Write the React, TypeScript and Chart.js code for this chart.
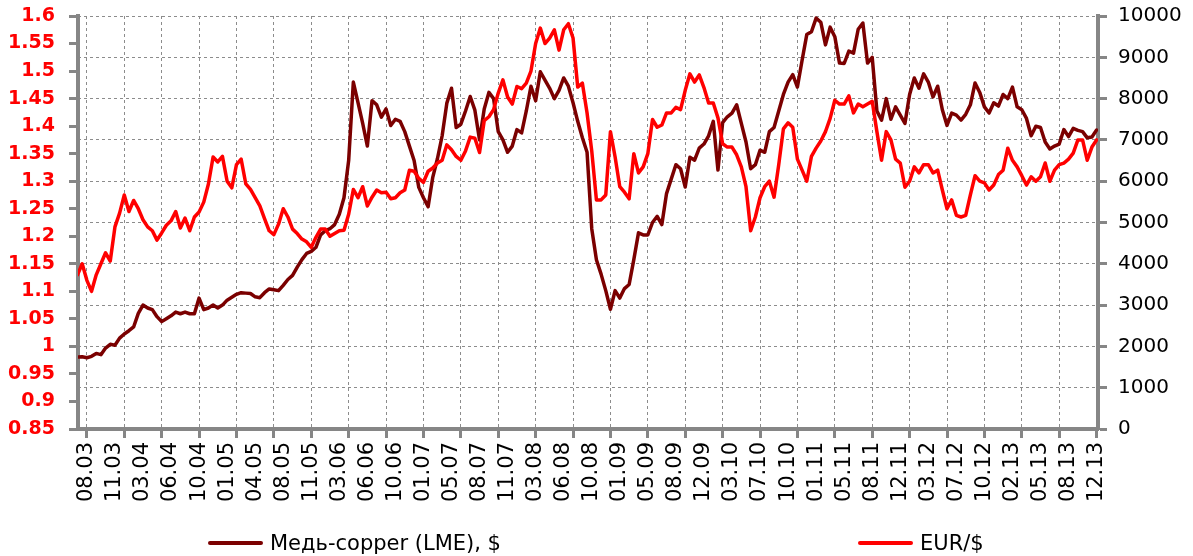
import React, { useEffect, useRef } from 'react';
import { Chart, registerables } from 'chart.js';

Chart.register(...registerables);

// Category labels shown every LABEL_STEP units along the x axis
const xLabels = [
  '08.03', '11.03', '03.04', '06.04', '10.04', '01.05', '04.05', '08.05', '11.05',
  '03.06', '06.06', '10.06', '01.07', '05.07', '08.07', '11.07', '03.08', '06.08',
  '10.08', '01.09', '05.09', '08.09', '12.09', '03.10', '07.10', '10.10', '01.11',
  '05.11', '08.11', '12.11', '03.12', '07.12', '10.12', '02.13', '05.13', '08.13', '12.13',
];

// Copper (LME), $ per tonne — right axis
const copper = [
  1740, 1750, 1725, 1760, 1830, 1800, 1960, 2050, 2030, 2200,
  2300, 2380, 2470, 2800, 3000, 2930, 2890, 2720, 2600, 2670,
  2740, 2830, 2790, 2830, 2790, 2790, 3170, 2890, 2930, 3000,
  2930, 3000, 3120, 3190, 3260, 3300, 3290, 3280, 3200, 3180,
  3300, 3390, 3370, 3350, 3480, 3620, 3720, 3920, 4100, 4250,
  4300, 4400, 4700, 4800, 4850, 4950, 5200, 5600, 6500, 8400,
  7900, 7400, 6850, 7950, 7850, 7550, 7750, 7350, 7500, 7450,
  7200, 6850, 6500, 5850, 5600, 5380, 6100, 6550, 7100, 7890,
  8250, 7300, 7380, 7700, 8050, 7720, 7000, 7750, 8150, 8000,
  7200, 7000, 6700, 6850, 7250, 7170, 7700, 8300, 7950, 8650,
  8450, 8250, 8000, 8200, 8500, 8300, 7900, 7450, 7050, 6700,
  4850, 4100, 3750, 3350, 2900, 3350, 3170, 3400, 3500, 4100,
  4750, 4700, 4700, 5000, 5150, 4950, 5700, 6050, 6400, 6300,
  5860, 6580, 6510, 6800, 6900, 7100, 7450, 6270, 7420, 7560,
  7650, 7850, 7400, 6950, 6300, 6400, 6750, 6700, 7200, 7300,
  7700, 8100, 8400, 8580, 8280, 8930, 9550, 9620, 9950, 9850,
  9300, 9730, 9500, 8860, 8850, 9150, 9100, 9680, 9830, 8860,
  9000, 7700, 7480, 8000, 7500, 7800, 7600, 7400, 8100, 8500,
  8250, 8600, 8400, 8040, 8300, 7730, 7350, 7650, 7600, 7480,
  7620, 7850, 8380, 8150, 7800, 7650, 7900, 7820, 8100, 8000,
  8280, 7800, 7730, 7520, 7100, 7330, 7300, 6950, 6780, 6850,
  6900, 7250, 7080, 7280, 7230, 7200, 7050, 7070, 7240,
];

// EUR/$ — left axis
const eur = [
  1.13, 1.15, 1.12, 1.10, 1.13, 1.15, 1.17, 1.155, 1.217, 1.242,
  1.275, 1.245, 1.265, 1.25, 1.23, 1.217, 1.21, 1.193, 1.206, 1.22,
  1.228, 1.245, 1.215, 1.233, 1.21, 1.235, 1.244, 1.262, 1.295, 1.344,
  1.335, 1.345, 1.30, 1.288, 1.33, 1.34, 1.295, 1.285, 1.27, 1.255,
  1.232, 1.21, 1.203, 1.222, 1.25, 1.235, 1.213, 1.205, 1.195, 1.19,
  1.18, 1.198, 1.213, 1.213, 1.2, 1.205, 1.21, 1.211, 1.24, 1.285,
  1.27, 1.29, 1.255, 1.271, 1.284, 1.279, 1.28, 1.268, 1.27, 1.279,
  1.284, 1.32, 1.318, 1.305, 1.298, 1.318, 1.324, 1.333, 1.338, 1.366,
  1.357, 1.345, 1.338, 1.355, 1.38, 1.378, 1.352, 1.41, 1.417, 1.43,
  1.46, 1.484, 1.453, 1.44, 1.472, 1.468, 1.478, 1.5, 1.55, 1.578,
  1.55, 1.56, 1.575, 1.538, 1.575, 1.586, 1.56, 1.471, 1.478, 1.424,
  1.355, 1.266, 1.266, 1.275, 1.39, 1.344, 1.29, 1.28, 1.268, 1.35,
  1.315, 1.326, 1.35, 1.412, 1.398, 1.402, 1.424, 1.424, 1.434, 1.43,
  1.465, 1.495, 1.48, 1.493, 1.47, 1.442, 1.442, 1.415, 1.368, 1.362,
  1.362, 1.348, 1.326, 1.29, 1.21, 1.235, 1.27, 1.29, 1.30, 1.271,
  1.33, 1.395, 1.406, 1.398, 1.34, 1.32, 1.30, 1.345, 1.36, 1.373,
  1.39, 1.414, 1.447, 1.44, 1.44, 1.455, 1.424, 1.44, 1.435, 1.44,
  1.445, 1.39, 1.338, 1.39, 1.375, 1.34, 1.333, 1.289, 1.30, 1.326,
  1.315, 1.33, 1.33, 1.315, 1.32, 1.284, 1.25, 1.266, 1.238, 1.235,
  1.238, 1.275, 1.31, 1.30, 1.297, 1.284, 1.293, 1.312, 1.32, 1.36,
  1.338, 1.326, 1.31, 1.293, 1.308, 1.30, 1.308, 1.333, 1.30, 1.32,
  1.33, 1.333, 1.34, 1.351, 1.375, 1.375, 1.338, 1.362, 1.375,
];

const eurTicks = [0.85, 0.9, 0.95, 1, 1.05, 1.1, 1.15, 1.2, 1.25, 1.3, 1.35, 1.4, 1.45, 1.5, 1.55, 1.6];
const copperTicks = [0, 1000, 2000, 3000, 4000, 5000, 6000, 7000, 8000, 9000, 10000];

const FIRST_UNIT = -2; // x unit of the first data value
const LABEL_STEP = 6;  // units between x labels
const GRID_STEP = 8;   // units between vertical grid lines

const AXIS = '#868686';
const GRID = '#8c8c8c';
const COPPER_COLOR = '#7b0000';
const EUR_COLOR = '#ff0000';
const FONT = 'DejaVu Sans';

const noPad = (scale: any) => {
  scale.paddingTop = 0;
  scale.paddingBottom = 0;
  scale.paddingLeft = 0;
  scale.paddingRight = 0;
};

export default function App() {
  const ref = useRef<HTMLCanvasElement | null>(null);

  useEffect(() => {
    if (!ref.current) return;
    const lastUnit = (xLabels.length - 1) * LABEL_STEP;
    const chart = new Chart(ref.current, {
      type: 'line',
      data: {
        datasets: [
          {
            label: 'EUR/$',
            data: eur.map((v, i) => ({ x: i + FIRST_UNIT, y: v })),
            yAxisID: 'y',
            borderColor: EUR_COLOR,
            borderWidth: 3.5,
            pointRadius: 0,
            tension: 0,
            borderJoinStyle: 'round',
            borderCapStyle: 'round',
            order: 0,
          },
          {
            label: 'Медь-copper (LME), $',
            data: copper.map((v, i) => ({ x: i + FIRST_UNIT, y: v })),
            yAxisID: 'y1',
            borderColor: COPPER_COLOR,
            borderWidth: 3.5,
            pointRadius: 0,
            tension: 0,
            borderJoinStyle: 'round',
            borderCapStyle: 'round',
            order: 1,
          },
        ],
      },
      options: {
        responsive: false,
        animation: false,
        events: [],
        layout: { padding: { top: 16, left: 0, right: 0, bottom: 0 } },
        plugins: { legend: { display: false }, tooltip: { enabled: false } },
        scales: {
          x: {
            type: 'linear',
            min: -1.9,
            max: 216.3,
            afterBuildTicks: (scale: any) => {
              const t: any[] = [];
              for (let v = 0; v <= lastUnit; v += 2) {
                if (v % LABEL_STEP === 0 || v % GRID_STEP === 0) t.push({ value: v });
              }
              scale.ticks = t;
            },
            afterFit: (scale: any) => { scale.height = 127; noPad(scale); },
            ticks: {
              autoSkip: false,
              minRotation: 90,
              maxRotation: 90,
              padding: 4,
              color: '#000',
              font: { family: FONT, size: 21 },
              callback: (value: any) => {
                const v = Number(value);
                return v % LABEL_STEP === 0 ? xLabels[v / LABEL_STEP] : '';
              },
            },
            grid: {
              color: (ctx: any) => (ctx.tick && ctx.tick.value % GRID_STEP === 0 ? GRID : 'rgba(0,0,0,0)'),
              tickColor: (ctx: any) => (ctx.tick && ctx.tick.value % GRID_STEP === 0 ? AXIS : 'rgba(0,0,0,0)'),
              lineWidth: 1,
              tickLength: 9,
              tickWidth: 3,
              tickBorderDash: [],
            },
            border: { display: true, color: AXIS, width: 4, dash: [3, 3] },
          },
          y: {
            type: 'linear',
            position: 'left',
            min: 0.85,
            max: 1.6,
            afterBuildTicks: (scale: any) => { scale.ticks = eurTicks.map((v) => ({ value: v })); },
            afterFit: (scale: any) => { scale.width = 78; noPad(scale); },
            ticks: {
              padding: 14,
              color: '#ff0000',
              font: { family: FONT, size: 19, weight: 'bold' },
              callback: (value: any) => String(parseFloat(Number(value).toFixed(2))),
            },
            grid: {
              drawOnChartArea: false,
              color: AXIS,
              tickColor: AXIS,
              tickLength: 9,
              tickWidth: 3,
            },
            border: { display: true, color: AXIS, width: 4 },
          },
          y1: {
            type: 'linear',
            position: 'right',
            min: 0,
            max: 10000,
            afterBuildTicks: (scale: any) => { scale.ticks = copperTicks.map((v) => ({ value: v })); },
            afterFit: (scale: any) => { scale.width = 95; noPad(scale); },
            ticks: {
              padding: 11,
              color: '#000',
              font: { family: FONT, size: 20 },
              callback: (value: any) => String(value),
            },
            grid: {
              drawOnChartArea: true,
              color: GRID,
              lineWidth: 1,
              tickColor: AXIS,
              tickLength: 9,
              tickWidth: 3,
              tickBorderDash: [],
            },
            border: { display: true, color: AXIS, width: 4, dash: [3, 3] },
          },
        },
      },
    });
    return () => chart.destroy();
  }, []);

  const legendText: React.CSSProperties = {
    position: 'absolute',
    top: 530,
    fontFamily: FONT,
    fontSize: 21,
    lineHeight: '26px',
    color: '#000',
    whiteSpace: 'nowrap',
  };
  const legendLine = (left: number, color: string): React.CSSProperties => ({
    position: 'absolute',
    left,
    top: 541,
    width: 55,
    height: 4,
    background: color,
    borderRadius: 2,
  });

  return (
    <div style={{ position: 'absolute', left: 0, top: 0, width: 1193, height: 556, background: '#fff', overflow: 'hidden' }}>
      <canvas ref={ref} width={1193} height={556} style={{ display: 'block' }} />
      <div style={legendLine(208, COPPER_COLOR)} />
      <div style={{ ...legendText, left: 270 }}>Медь-copper (LME), $</div>
      <div style={legendLine(858, EUR_COLOR)} />
      <div style={{ ...legendText, left: 920 }}>EUR/$</div>
    </div>
  );
}
